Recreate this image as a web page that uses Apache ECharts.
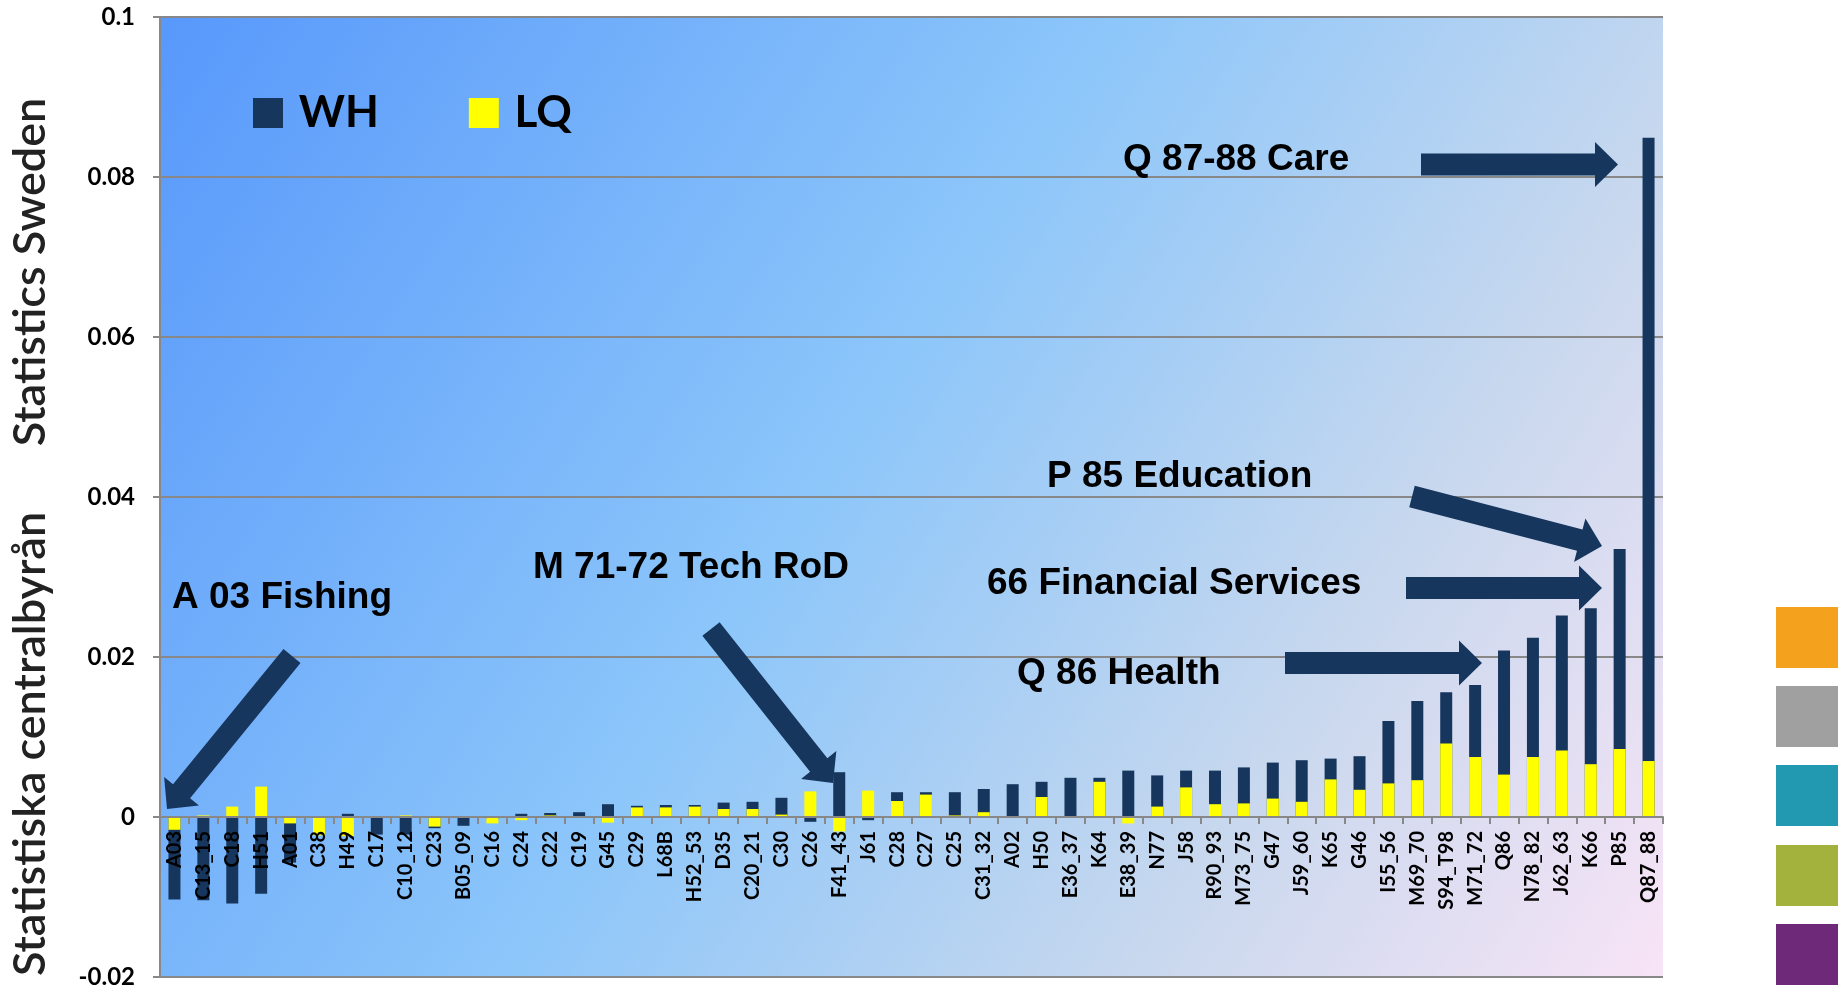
<!DOCTYPE html>
<html>
<head>
<meta charset="utf-8">
<script src="https://cdn.jsdelivr.net/npm/echarts@6/dist/echarts.min.js"></script>
<style>
  html, body { margin: 0; padding: 0; background: #fff; }
  #chart { width: 1838px; height: 990px; }
</style>
</head>
<body>
<div id="chart"></div>
<script>
// branches, sorted by WH
const categories = ['A03', 'C13_15', 'C18', 'H51', 'A01', 'C38', 'H49', 'C17', 'C10_12', 'C23',
  'B05_09', 'C16', 'C24', 'C22', 'C19', 'G45', 'C29', 'L68B', 'H52_53', 'D35',
  'C20_21', 'C30', 'C26', 'F41_43', 'J61', 'C28', 'C27', 'C25', 'C31_32', 'A02',
  'H50', 'E36_37', 'K64', 'E38_39', 'N77', 'J58', 'R90_93', 'M73_75', 'G47', 'J59_60',
  'K65', 'G46', 'I55_56', 'M69_70', 'S94_T98', 'M71_72', 'Q86', 'N78_82', 'J62_63', 'K66',
  'P85', 'Q87_88'];

const whValues = [-0.0103, -0.0104, -0.0108, -0.0096, -0.0057, -0.0018, 0.0004, -0.0022, -0.0022, -0.0014,
  -0.0011, -0.0003, 0.0004, 0.0005, 0.0006, 0.0016, 0.0014, 0.0015, 0.0015, 0.0018,
  0.0019, 0.0024, -0.0006, 0.0056, -0.0004, 0.0031, 0.0031, 0.0031, 0.0035, 0.0041,
  0.0044, 0.0049, 0.0049, 0.0058, 0.0052, 0.0058, 0.0058, 0.0062, 0.0068, 0.0071,
  0.0073, 0.0076, 0.0120, 0.0145, 0.0156, 0.0165, 0.0208, 0.0224, 0.0252, 0.0261,
  0.0335, 0.0849];

const lqValues = [-0.0016, 0.0002, 0.0013, 0.0038, -0.0008, -0.0023, -0.0024, 0, 0.0002, -0.0012,
  0, -0.0008, -0.0004, 0.0002, 0, -0.0007, 0.0012, 0.0012, 0.0013, 0.0010,
  0.0010, 0.0003, 0.0032, -0.0018, 0.0033, 0.0020, 0.0028, 0.0002, 0.0006, 0,
  0.0025, 0, 0.0044, -0.0008, 0.0013, 0.0037, 0.0016, 0.0017, 0.0023, 0.0019,
  0.0047, 0.0034, 0.0042, 0.0046, 0.0092, 0.0075, 0.0053, 0.0075, 0.0083, 0.0066,
  0.0085, 0.0070];

const yMin = -0.02;
const yMax = 0.1;
const yStep = 0.02;

const navy = '#17365D';

const gridTop = 17, gridBottom = 13, chartHeight = 990;
const gridHeight = chartHeight - gridTop - gridBottom;
// x axis sits on the zero line: shift it up from the grid bottom
const xAxisOffset = -(0 - yMin) / (yMax - yMin) * gridHeight;

// block arrow (shaft + head) as polygon points
function arrowPoints(x1, y1, x2, y2) {
  const shaft = 22, head = 45, headLen = 23;
  const dx = x2 - x1, dy = y2 - y1;
  const len = Math.sqrt(dx * dx + dy * dy);
  const ux = dx / len, uy = dy / len;
  const px = -uy, py = ux;
  const bx = x2 - ux * headLen, by = y2 - uy * headLen;
  return [
    [x1 + px * shaft / 2, y1 + py * shaft / 2],
    [bx + px * shaft / 2, by + py * shaft / 2],
    [bx + px * head / 2, by + py * head / 2],
    [x2, y2],
    [bx - px * head / 2, by - py * head / 2],
    [bx - px * shaft / 2, by - py * shaft / 2],
    [x1 - px * shaft / 2, y1 - py * shaft / 2]
  ];
}

function arrow(x1, y1, x2, y2) {
  return { type: 'polygon', z: 100, shape: { points: arrowPoints(x1, y1, x2, y2) }, style: { fill: navy } };
}

function note(text, x, y) {
  return {
    type: 'text', z: 100, x: x, y: y,
    style: { text: text, fill: '#000', font: 'bold 37px "Liberation Sans", Arial', verticalAlign: 'middle' }
  };
}

function swatch(y, color) {
  return { type: 'rect', shape: { x: 1776, y: y, width: 62, height: 61 }, style: { fill: color } };
}

const chart = echarts.init(document.getElementById('chart'));

const option = {
  backgroundColor: '#fff',
  animation: false,
  grid: {
    left: 160, right: 175, top: gridTop, bottom: gridBottom,
    outerBoundsMode: 'none',
    containLabel: false,
    show: true,
    borderWidth: 0,
    backgroundColor: new echarts.graphic.LinearGradient(0, 0, 1, 1, [
      { offset: 0, color: '#5898FB' },
      { offset: 0.45, color: '#8CC6FA' },
      { offset: 0.75, color: '#C8D8EE' },
      { offset: 1, color: '#F8E4F6' }
    ])
  },
  legend: {
    left: 248, top: 86,
    icon: 'rect',
    itemWidth: 30, itemHeight: 30,
    itemGap: 90,
    formatter: ' {name}',
    textStyle: { fontFamily: 'Lato', fontWeight: 'bold', fontSize: 44, color: '#000' },
    data: ['WH', 'LQ']
  },
  xAxis: {
    type: 'category',
    data: categories,
    position: 'bottom',
    offset: xAxisOffset,
    z: 10,
    axisLine: { onZero: false, lineStyle: { color: '#888', width: 2 } },
    axisTick: { show: true, length: 7, lineStyle: { color: '#888', width: 2 } },
    axisLabel: {
      rotate: 90, interval: 0, margin: 14,
      color: '#000', fontFamily: 'Lato', fontWeight: 'bold', fontSize: 20
    },
    splitLine: { show: false }
  },
  yAxis: {
    type: 'value',
    min: yMin, max: yMax, interval: yStep,
    axisLine: { show: true, lineStyle: { color: '#888', width: 2 } },
    axisTick: { show: true, length: 7, lineStyle: { color: '#888', width: 2 } },
    axisLabel: {
      margin: 25, color: '#000', fontFamily: 'Lato', fontWeight: 'bold', fontSize: 24,
      formatter: function (v) { return String(Math.round(v * 100) / 100); }
    },
    splitLine: { lineStyle: { color: '#888', width: 2 } }
  },
  series: [
    {
      name: 'WH', type: 'bar', data: whValues,
      barWidth: 12, barGap: '-100%',
      itemStyle: { color: navy }
    },
    {
      name: 'LQ', type: 'bar', data: lqValues,
      barWidth: 12,
      itemStyle: { color: '#FFFF00' }
    }
  ],
  graphic: [
    // logo text on the left
    {
      type: 'text', x: 30, y: 272, rotation: Math.PI / 2,
      style: { text: 'Statistics Sweden', fill: '#222', font: '600 45px Lato', align: 'center', verticalAlign: 'middle' }
    },
    {
      type: 'text', x: 30, y: 744, rotation: Math.PI / 2,
      style: { text: 'Statistiska centralbyrån', fill: '#222', font: '600 45px Lato', align: 'center', verticalAlign: 'middle' }
    },
    // annotations
    note('A 03 Fishing', 172, 598),
    note('M 71-72 Tech RoD', 533, 568),
    note('Q 87-88 Care', 1123, 160),
    note('P 85 Education', 1047, 477),
    note('66 Financial Services', 987, 584),
    note('Q 86 Health', 1017, 674),
    arrow(292, 656, 167, 809),
    arrow(711, 629, 833, 783),
    arrow(1421, 164.5, 1618, 164.5),
    arrow(1412, 496.5, 1602, 546),
    arrow(1406, 588, 1602, 588),
    arrow(1285, 663, 1482, 663),
    // colour swatches on the right edge
    swatch(607, '#F4A21E'),
    swatch(686, '#A0A0A0'),
    swatch(765, '#2299B0'),
    swatch(845, '#A2B23C'),
    swatch(924, '#6E2A78')
  ]
};

chart.setOption(option);
</script>
</body>
</html>
